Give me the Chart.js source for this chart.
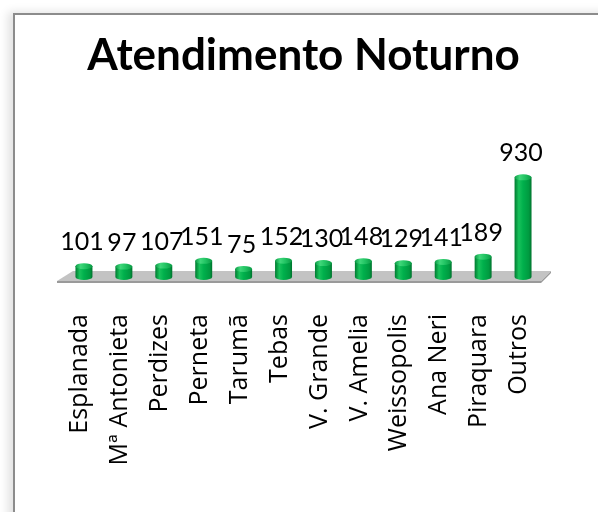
<!DOCTYPE html>
<html>
<head>
<meta charset="utf-8">
<script src="https://cdn.jsdelivr.net/npm/chart.js@4/dist/chart.umd.min.js"></script>
<style>
  html, body { margin: 0; padding: 0; background: #fff; overflow: hidden; }
  #frame {
    position: absolute; left: 13px; top: 13px; width: 700px; height: 600px;
    border-left: 2px solid #8c8c8c; border-top: 2px solid #8c8c8c;
    box-shadow: -5px -1px 9px rgba(0, 0, 0, 0.12);
  }
  #wrap { position: absolute; left: 0; top: 0; width: 598px; height: 512px; }
</style>
</head>
<body>
<div id="frame"></div>
<div id="wrap"><canvas id="chart" width="598" height="512"></canvas></div>
<script>
const categories = ["Esplanada", "Mª Antonieta", "Perdizes", "Perneta", "Tarumã", "Tebas",
  "V. Grande", "V. Amelia", "Weissopolis", "Ana Neri", "Piraquara", "Outros"];
const values = [101, 97, 107, 151, 75, 152, 130, 148, 129, 141, 189, 930];
const chartTitle = "Atendimento Noturno";

const BAR_PCT = 0.85;
const CAT_PCT = 0.5;

function greenGradient(c, cx, half, light) {
  const g = c.createLinearGradient(cx - half, 0, cx + half, 0);
  if (light) {
    g.addColorStop(0, "#0a9a44");
    g.addColorStop(0.3, "#3fd77a");
    g.addColorStop(0.6, "#22c463");
    g.addColorStop(1, "#0a9a44");
  } else {
    g.addColorStop(0, "#007a30");
    g.addColorStop(0.25, "#18c25b");
    g.addColorStop(0.5, "#00b04c");
    g.addColorStop(0.85, "#009a40");
    g.addColorStop(1, "#00722d");
  }
  return g;
}

function cylinderFill(context) {
  const chart = context.chart;
  const xs = chart.scales.x;
  if (!xs || context.dataIndex === undefined) return "#00b050";
  const cx = xs.getPixelForValue(context.dataIndex);
  const half = xs.width / categories.length * BAR_PCT * CAT_PCT / 2;
  if (!isFinite(cx) || !isFinite(half) || half <= 0) return "#00b050";
  return greenGradient(chart.ctx, cx, half, false);
}

const cylinder3d = {
  id: "cylinder3d",
  beforeDatasetsDraw(chart) {
    const c = chart.ctx;
    const area = chart.chartArea;
    const base = chart.scales.y.getPixelForValue(0);
    c.save();
    // floor slab
    c.beginPath();
    c.moveTo(area.left + 9, base - 6);
    c.lineTo(area.right + 8, base - 6);
    c.lineTo(area.right - 2, base + 4);
    c.lineTo(area.left - 7, base + 4);
    c.closePath();
    c.fillStyle = "#c3c3c3";
    c.fill();
    c.beginPath();
    c.moveTo(area.left - 7, base + 4);
    c.lineTo(area.right - 2, base + 4);
    c.lineTo(area.right + 8, base - 6);
    c.lineTo(area.right + 8, base - 4);
    c.lineTo(area.right - 2, base + 6);
    c.lineTo(area.left - 7, base + 6);
    c.closePath();
    c.fillStyle = "#9a9a9a";
    c.fill();
    c.restore();
  },
  afterDatasetsDraw(chart) {
    const c = chart.ctx;
    const meta = chart.getDatasetMeta(0);
    c.save();
    meta.data.forEach((bar, i) => {
      const half = bar.width / 2;
      // rounded bottom
      c.beginPath();
      c.ellipse(bar.x, bar.base, half, 3, 0, 0, Math.PI);
      c.fillStyle = greenGradient(c, bar.x, half, false);
      c.fill();
      // lid
      c.beginPath();
      c.ellipse(bar.x, bar.y, half, 3, 0, 0, Math.PI * 2);
      c.fillStyle = greenGradient(c, bar.x, half, true);
      c.fill();
      // value label
      c.fillStyle = "#000";
      c.font = "25px Lato";
      c.textAlign = "center";
      c.textBaseline = "middle";
      c.fillText(String(values[i]), bar.x - 2, bar.y - 24);
    });
    c.restore();
  }
};

new Chart(document.getElementById("chart").getContext("2d"), {
  type: "bar",
  data: {
    labels: categories,
    datasets: [{
      data: values,
      backgroundColor: cylinderFill,
      borderWidth: 0,
      barPercentage: BAR_PCT,
      categoryPercentage: CAT_PCT
    }]
  },
  options: {
    responsive: false,
    animation: false,
    layout: { padding: { left: 64, right: 55, top: 0, bottom: 0 } },
    plugins: {
      legend: { display: false },
      tooltip: { enabled: false },
      title: {
        display: true,
        text: chartTitle,
        color: "#000",
        font: { family: "Lato", size: 44, weight: "bold" },
        padding: { top: 29, bottom: 88 }
      }
    },
    scales: {
      x: {
        grid: { display: false, drawTicks: false },
        border: { display: false },
        afterFit(scale) { scale.height = 235; },
        ticks: {
          color: "#000",
          font: { family: "'Open Sans'", size: 25 },
          minRotation: 90,
          maxRotation: 90,
          padding: 37,
          labelOffset: -4,
          autoSkip: false
        }
      },
      y: {
        display: false,
        min: 0,
        max: 1000
      }
    }
  },
  plugins: [cylinder3d]
});
</script>
</body>
</html>
